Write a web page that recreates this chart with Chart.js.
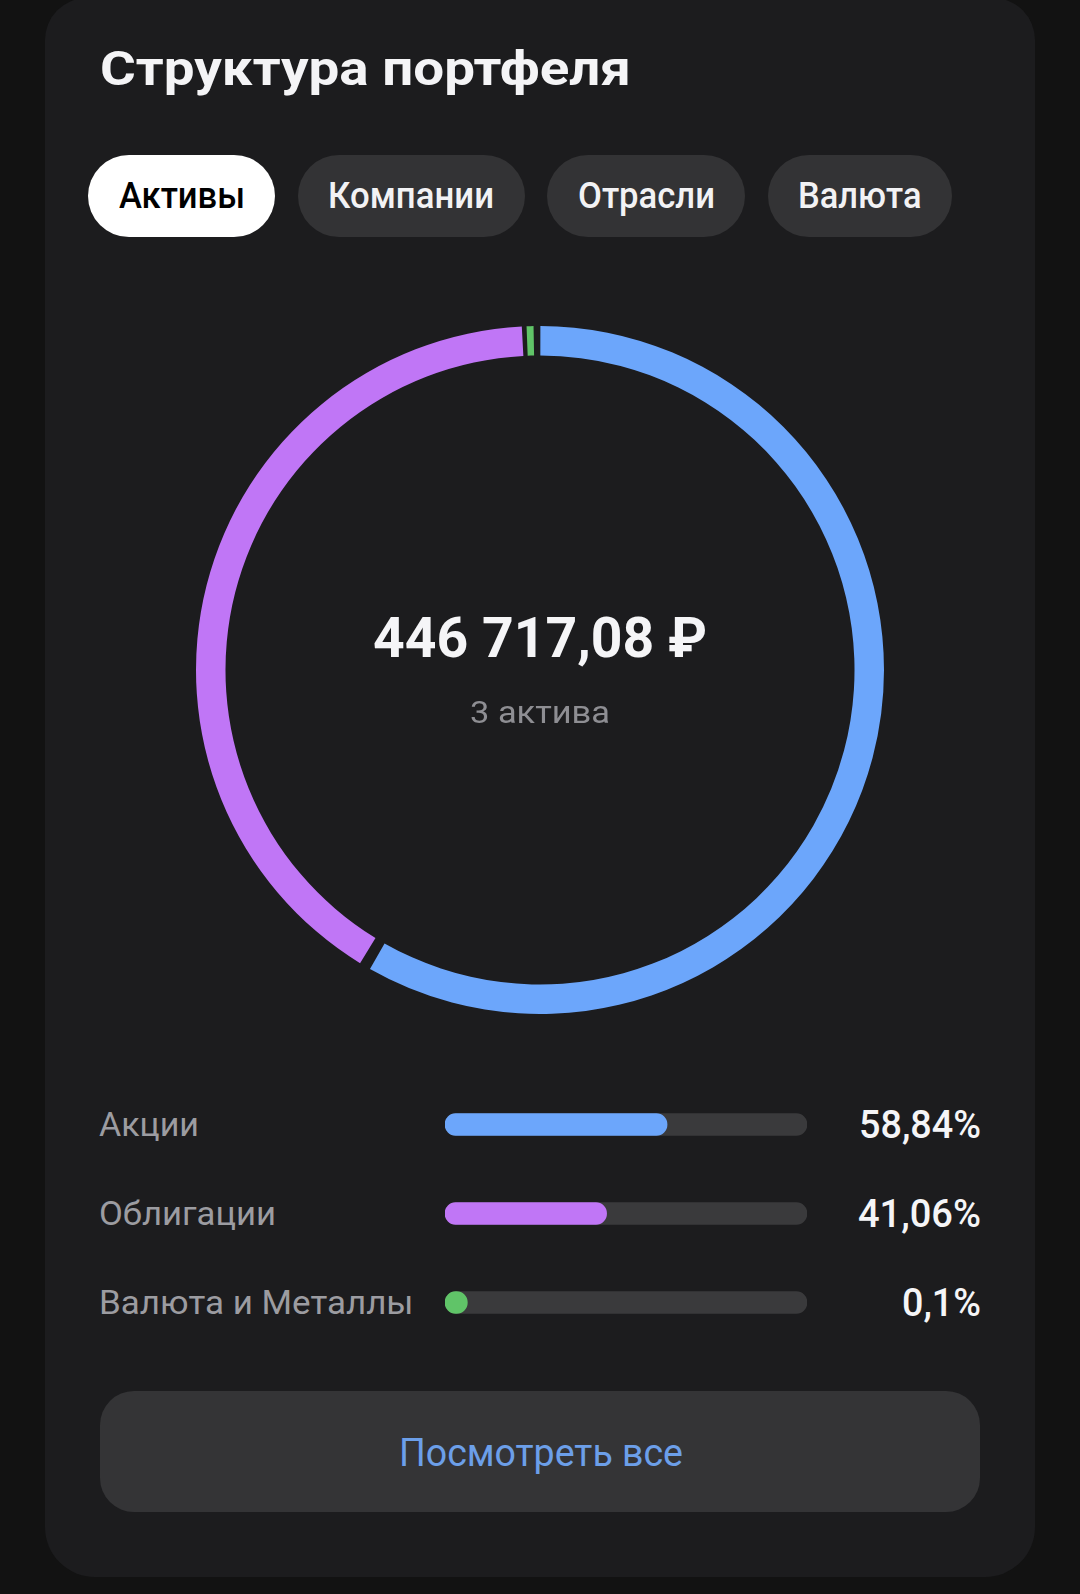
<!DOCTYPE html>
<html><head><meta charset="utf-8">
<script src="https://cdn.jsdelivr.net/npm/chart.js@4.4.1/dist/chart.umd.min.js"></script>
<style>
html,body{margin:0;padding:0;background:#121212;width:1080px;height:1594px;overflow:hidden;font-family:Roboto,'Noto Sans',sans-serif;}
.abs{position:absolute;white-space:nowrap;line-height:1;}
#card{position:absolute;left:45px;top:-2px;width:990px;height:1579px;background:#1c1c1e;border-radius:42px 42px 50px 50px;}
.pill{position:absolute;top:155px;height:82px;border-radius:41px;background:#333335;}
#btn{position:absolute;left:100px;top:1391px;width:880px;height:121px;border-radius:34px;background:#343436;}
canvas{position:absolute;}
</style></head><body>
<div id="card"></div>
<div id="btn"></div>
<canvas id="donut" width="720" height="720" style="left:180px;top:310px"></canvas>
<canvas id="bars" width="362" height="267" style="left:445px;top:1080px"></canvas>
<script>
const title = 'Структура портфеля';
const tabs = ['Активы', 'Компании', 'Отрасли', 'Валюта'];
const activeTab = 0;
const totalLabel = '446 717,08 ₽';
const countLabel = '3 актива';
const categories = ['Акции', 'Облигации', 'Валюта и Металлы'];
const shares = [58.84, 41.06, 0.1];
const shareLabels = ['58,84%', '41,06%', '0,1%'];
const colors = ['#6ca6fb', '#c076f6', '#60c468'];
const buttonLabel = 'Посмотреть все';

const mc = document.createElement('canvas').getContext('2d');
function addText(txt, o) {
  const d = document.createElement('div');
  d.className = 'abs';
  d.textContent = txt;
  const font = `${o.weight} ${o.size}px Roboto`;
  d.style.font = font;
  d.style.lineHeight = '1';
  d.style.color = o.color;
  mc.font = font;
  const w = mc.measureText(txt).width;
  let s = o.width ? o.width / w : 1;
  s = Math.max(0.85, Math.min(1.2, s));
  const W = w * s;
  const left = o.align === 'center' ? o.x - W / 2 : o.align === 'right' ? o.x - W : o.x;
  d.style.left = left + 'px';
  d.style.top = (o.baseline - 0.842 * o.size) + 'px';
  d.style.transformOrigin = '0 0';
  d.style.transform = `scaleX(${s})`;
  document.body.appendChild(d);
  return W;
}

// title
addText(title, {size: 48, weight: 700, color: '#f4f4f6', x: 100, align: 'left', baseline: 85, width: 531});

// tabs
let px = 88;
const tabW = [126, 166, 137, 123.5];
tabs.forEach((t, i) => {
  const pill = document.createElement('div');
  pill.className = 'pill';
  const pad = 30.5;
  pill.style.left = px + 'px';
  pill.style.width = (tabW[i] + 2 * pad) + 'px';
  if (i === activeTab) pill.style.background = '#ffffff';
  document.body.appendChild(pill);
  addText(t, {size: 36, weight: 500, color: i === activeTab ? '#000000' : '#f2f2f4', x: px + pad + tabW[i] / 2, align: 'center', baseline: 208.5, width: tabW[i]});
  px += tabW[i] + 2 * pad + 22.5;
});

// centre texts
addText(totalLabel, {size: 55, weight: 700, color: '#f5f5f7', x: 540, align: 'center', baseline: 657, width: 334});
addText(countLabel, {size: 32, weight: 400, color: '#8e8e93', x: 540, align: 'center', baseline: 723, width: 140});

// legend rows
const labelW = [100, 177, 314.5];
const pctW = [122, 123, 79];
categories.forEach((c, i) => {
  const bl = 1135.5 + i * 89;
  addText(c, {size: 34, weight: 400, color: '#9c9ca1', x: 99, align: 'left', baseline: bl, width: labelW[i]});
  addText(shareLabels[i], {size: 38, weight: 500, color: '#f5f5f7', x: 980.5, align: 'right', baseline: bl + 2, width: pctW[i]});
});

// button
addText(buttonLabel, {size: 39, weight: 400, color: '#6c9fe9', x: 541, align: 'center', baseline: 1466.5, width: 284});

// minimum visible arc length (like a bar's minBarLength), taken from the preceding arc
const minArc = {
  id: 'minArc',
  beforeDatasetDraw(chart, args, opts) {
    const arcs = args.meta.data;
    arcs.forEach((arc, i) => {
      const minA = opts.minPx / arc.outerRadius;
      const a = arc.endAngle - arc.startAngle;
      if (a > 0 && a < minA) {
        const need = minA - a;
        const prev = arcs[(i - 1 + arcs.length) % arcs.length];
        prev.endAngle -= need;
        prev.circumference = prev.endAngle - prev.startAngle;
        arc.startAngle -= need;
        arc.circumference = arc.endAngle - arc.startAngle;
      }
    });
  }
};

// doughnut
new Chart(document.getElementById('donut'), {
  type: 'doughnut',
  data: {labels: categories, datasets: [{data: shares, backgroundColor: colors, borderWidth: 0, spacing: 7}]},
  options: {
    responsive: false, animation: false, devicePixelRatio: 1, events: [],
    radius: 340.5, cutout: '91.34%', rotation: -1.07,
    layout: {padding: 0},
    plugins: {legend: {display: false}, tooltip: {enabled: false}, minArc: {minPx: 7}}
  },
  plugins: [minArc]
});

// progress bars
const DOT = 22, TRACK = 362;
const minX = -DOT / (TRACK - DOT) * 100;
new Chart(document.getElementById('bars'), {
  type: 'bar',
  data: {labels: categories, datasets: [
    {data: shares, base: minX, backgroundColor: colors, barThickness: DOT, borderRadius: DOT / 2, borderSkipped: false, grouped: false, order: 0},
    {data: categories.map(() => 100), base: minX, backgroundColor: '#3a3a3c', barThickness: DOT, borderRadius: DOT / 2, borderSkipped: false, grouped: false, order: 1}
  ]},
  options: {
    indexAxis: 'y', responsive: false, animation: false, devicePixelRatio: 1, events: [],
    layout: {padding: 0},
    plugins: {legend: {display: false}, tooltip: {enabled: false}},
    scales: {x: {min: minX, max: 100, display: false}, y: {display: false}}
  }
});
</script>
</body></html>
